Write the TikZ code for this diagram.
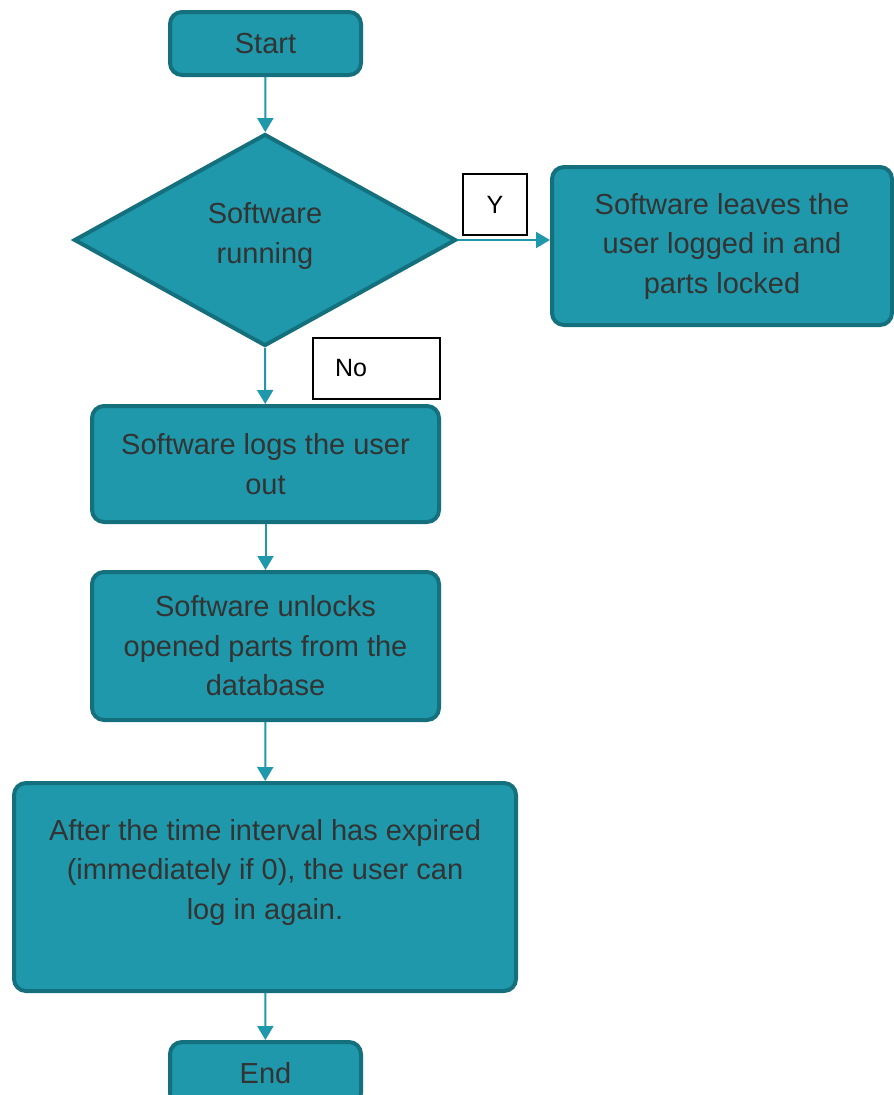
\documentclass[tikz,border=0pt]{standalone}
\usepackage{fontspec}
\setmainfont{Liberation Sans}
\usetikzlibrary{shapes.geometric,arrows.meta}
\definecolor{tealfill}{HTML}{1E98AA}
\definecolor{tealedge}{HTML}{15707D}
\definecolor{txtgray}{HTML}{333333}
\tikzset{
  x=1pt,y=-1pt,
  flowbox/.style={draw=tealedge,fill=tealfill,line width=4pt,rounded corners=12pt,
    text=txtgray,align=center,inner sep=0pt,font=\fontsize{29}{39.5}\selectfont},
  decision/.style={diamond,draw=tealedge,fill=tealfill,line width=4pt,aspect=1.8,
    text=txtgray,align=center,inner sep=0pt,font=\fontsize{29}{39.5}\selectfont},
  tag/.style={draw=black,line width=1.5pt,fill=white,inner sep=0pt,
    font=\fontsize{25}{30}\selectfont},
  flow/.style={draw=tealfill,line width=2pt,-{Triangle[length=14pt,width=16pt]}},
}
\begin{document}
\begin{tikzpicture}
\useasboundingbox (0,0) rectangle (894,1095);
\node[flowbox,minimum width=191,minimum height=63] (start) at (265.5,43.5) {Start};
\node[decision,minimum width=382,minimum height=212] (run) at (265,240) {};
\node[text=txtgray,align=center,font=\fontsize{29}{39.5}\selectfont] (runtxt) at (265,236) {Software\\running};
\node[flowbox,minimum width=340,minimum height=158] (leave) at (722,246) {Software leaves the\\user logged in and\\parts locked};
\node[flowbox,minimum width=347,minimum height=116] (logout) at (265.5,464) {Software logs the user\\out};
\node[flowbox,minimum width=347,minimum height=148] (unlock) at (265.5,646) {Software unlocks\\opened parts from the\\database};
\node[flowbox,minimum width=502,minimum height=208] (after) at (265,887) {};
\node[text=txtgray,align=center,font=\fontsize{29}{39.5}\selectfont] (aftertxt) at (265,872) {After the time interval has expired\\(immediately if 0), the user can\\log in again.};
\node[flowbox,minimum width=191,minimum height=63] (end) at (265.5,1073.5) {End};
\node[tag,minimum width=64,minimum height=61] (y) at (495,204.5) {Y};
\node[tag,minimum width=127,minimum height=61,text width=83,inner xsep=22pt,align=left] (no) at (376.5,368.5) {No};
\draw[flow] (start) -- (run);
\draw[flow] (run.east) -- (run.east -| leave.west);
\draw[flow] (run.south) -- (logout);
\draw[flow] (logout) -- (unlock);
\draw[flow] (unlock) -- (after);
\draw[flow] (after) -- (end);
\end{tikzpicture}
\end{document}
